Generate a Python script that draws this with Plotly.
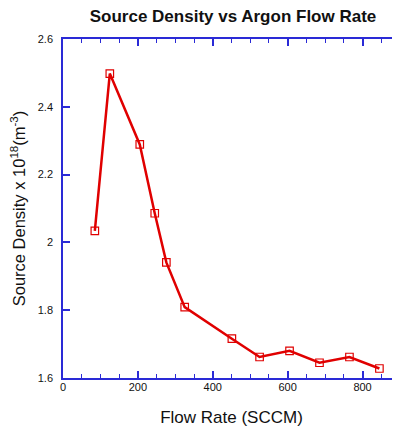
import plotly.graph_objects as go

flow_rate = [85, 125, 205, 245, 276, 325, 451, 525, 605, 685, 765, 845]
density = [2.034, 2.498, 2.289, 2.086, 1.941, 1.809, 1.716, 1.662, 1.680, 1.645, 1.662, 1.628]

x_ticks = [0, 200, 400, 600, 800]
y_ticks = [1.6, 1.8, 2.0, 2.2, 2.4, 2.6]
y_labels = ["1.6", "1.8", "2", "2.2", "2.4", "2.6"]

axis_col = "#2a2ad6"

fig = go.Figure()
fig.add_trace(go.Scatter(
    x=flow_rate, y=density, mode="lines+markers",
    line=dict(color="#e00000", width=2.5),
    marker=dict(symbol="square-open", size=7.5, color="#e00000", line=dict(width=1.2)),
    showlegend=False,
))

fig.update_layout(
    width=392, height=419,
    margin=dict(l=55, r=0, t=31, b=49, autoexpand=False),
    paper_bgcolor="white", plot_bgcolor="white",
    font=dict(family="Arial, Liberation Sans, sans-serif", color="#111111"),
    title=dict(text="<b>Source Density vs Argon Flow Rate</b>", x=0.574, xanchor="center",
               y=0.981, yanchor="middle", automargin=False,
               font=dict(size=17, color="#111111")),
    xaxis=dict(range=[0, 900], tickvals=x_ticks, ticktext=[str(v) for v in x_ticks],
               ticks="inside", ticklen=7, tickwidth=1.5, tickcolor=axis_col,
               showline=True, linecolor=axis_col, linewidth=1.5, mirror="ticks",
               showgrid=False, zeroline=False, automargin=False, ticklabelstandoff=-2,
               minor=dict(dtick=50, tick0=0, ticks="inside", ticklen=4, tickcolor=axis_col, tickwidth=1.2, showgrid=False),
               tickfont=dict(size=11, color="#111111"),
               title=dict(text="Flow Rate (SCCM)", font=dict(size=17, color="#111111"), standoff=20)),
    yaxis=dict(range=[1.6, 2.6], tickvals=y_ticks, ticktext=y_labels,
               ticks="inside", ticklen=7, tickwidth=1.5, tickcolor=axis_col,
               showline=True, linecolor=axis_col, linewidth=1.5, mirror="ticks",
               showgrid=False, zeroline=False, ticklabelstandoff=6, automargin=False,
               tickfont=dict(size=11, color="#111111"),
               title=dict(text="Source Density x 10<sup>18</sup>(m<sup>-3</sup>)",
                          font=dict(size=16.5, color="#111111"), standoff=10)),
)

fig.write_html("out.html")
